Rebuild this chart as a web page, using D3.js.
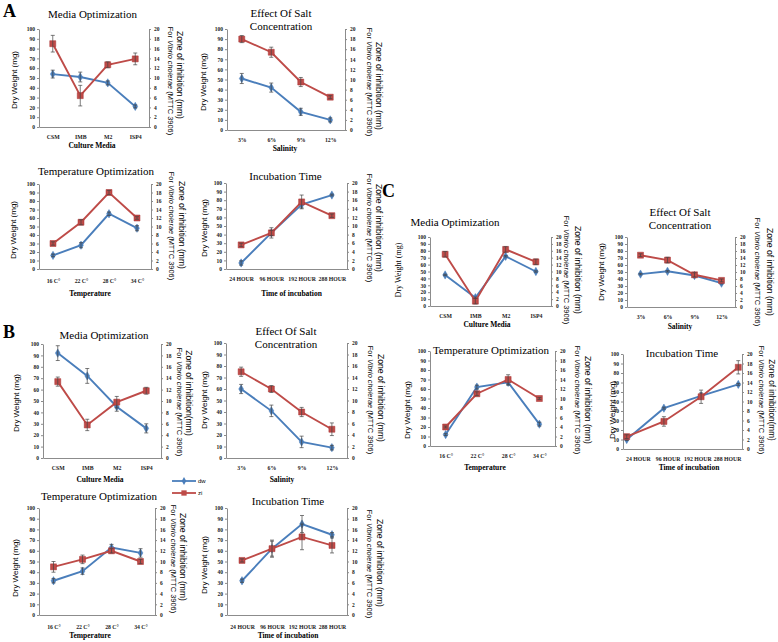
<!DOCTYPE html>
<html><head><meta charset="utf-8">
<script src="https://cdn.jsdelivr.net/npm/d3@7/dist/d3.min.js"></script>
<style>body{margin:0;background:#fff}svg{display:block}</style>
</head><body><svg id="c" width="778" height="642"></svg>
<script>
// ---------- DATA ----------
const mediaCats = ["CSM", "IMB", "M2", "ISP4"];
const salinityCats = ["3%", "6%", "9%", "12%"];
const tempCats = ["16 C°", "22 C°", "28 C°", "34 C°"];
const timeCats = ["24 HOUR", "96 HOUR", "192 HOUR", "288 HOUR"];
const dwTicks = [0, 10, 20, 30, 40, 50, 60, 70, 80, 90, 100];
const ziTicks = [0, 2, 4, 6, 8, 10, 12, 14, 16, 18, 20];
const legendLabels = ["dw", "zi"];

// A
const aMediaDw = [54, 51, 45, 21], aMediaDwErr = [4, 5, 2, 1.5];
const aMediaZi = [17, 6.4, 12.7, 13.9], aMediaZiErr = [1.7, 2.1, 0.6, 1.2];
const aSaltDw = [51, 42, 18, 10], aSaltDwErr = [5, 4.5, 3.5, 2];
const aSaltZi = [18, 15.4, 9.5, 6.5], aSaltZiErr = [0.7, 1, 0.9, 0.3];
const aTempDw = [16, 28, 65, 48], aTempDwErr = [1.5, 3, 2, 3];
const aTempZi = [6, 11, 18, 12], aTempZiErr = [0.4, 0.6, 0.5, 0.3];
const aTimeDw = [7, 42, 75, 86], aTimeDwErr = [2.5, 6, 4, 1];
const aTimeZi = [5.6, 8.4, 15.6, 12.4], aTimeZiErr = [0.4, 0.6, 1.6, 0.4];
// B
const bMediaDw = [92, 72, 45, 26], bMediaDwErr = [6.5, 6.5, 4, 4];
const bMediaZi = [13.4, 5.8, 9.8, 11.8], bMediaZiErr = [0.8, 1, 1, 0.6];
const bSaltDw = [60, 41, 14, 9], bSaltDwErr = [4, 5, 5, 2];
const bSaltZi = [15, 12, 8, 5], bSaltZiErr = [0.8, 0.6, 0.8, 1.1];
const bTempDw = [32, 41, 63, 58], bTempDwErr = [2, 3, 3, 4];
const bTempZi = [9, 10.4, 12, 10], bTempZiErr = [1, 0.8, 0.4, 0.4];
const bTimeDw = [32, 62, 85, 75], bTimeDwErr = [1.5, 7, 8, 2];
const bTimeZi = [10.2, 12.4, 14.6, 13], bTimeZiErr = [0.3, 1.6, 2.4, 1.4];
// C
const cMediaDw = [45, 12, 72, 50], cMediaDwErr = [1, 1, 1, 1];
const cMediaZi = [15, 1.4, 16.4, 12.8], cMediaZiErr = [0.8, 0.8, 0.8, 0.8];
const cSaltDw = [47, 51, 45, 34], cSaltDwErr = [1, 1, 2, 1];
const cSaltZi = [14.8, 13.4, 9.2, 7.6], cSaltZiErr = [0.4, 0.8, 0.6, 0.4];
const cTempDw = [12, 62, 67, 23], cTempDwErr = [1, 2, 3, 2];
const cTempZi = [4, 11, 14, 10], cTempZiErr = [0.2, 0.4, 1, 0.2];
const cTimeDw = [10, 43, 56, 68], cTimeDwErr = [1, 1, 3, 1];
const cTimeZi = [2.6, 5.8, 11, 17.2], cTimeZiErr = [0.4, 1, 1.4, 1.4];

// ---------- DRAW ----------
const svg = d3.select("#c");
const BLUE = "#4a7ebb", RED = "#be4b48", AX = "#8c8c8c";
const SERIF = "'Liberation Serif','Times New Roman',serif";
const SANS = "'Liberation Sans',Arial,sans-serif";

function rotText(g, x, y, angle, size, parts, family) {
  const t = g.append("text").attr("transform", `translate(${x},${y}) rotate(${angle})`)
    .attr("text-anchor", "middle").attr("dy", "0.35em")
    .attr("font-family", family || SANS).attr("font-size", size).attr("fill", "#000");
  parts.forEach(p => t.append("tspan").attr("font-style", p.i ? "italic" : "normal").text(p.t));
}

function panel(p) {
  const g = svg.append("g");
  const x = d3.scalePoint().domain(p.cats).range([p.x0, p.x1]).padding(0.5);
  const xp = d3.scalePoint().domain(p.cats).range([p.x0, p.x1]).padding(p.ptPad == null ? 0.5 : p.ptPad);
  const yL = d3.scaleLinear().domain([0, 100]).range([p.yB, p.yT]);
  const yR = d3.scaleLinear().domain([0, 20]).range([p.yB, p.yT]);

  const styleAxis = a => {
    a.selectAll("path,line").attr("stroke", AX);
    a.selectAll("text").attr("font-family", SERIF).attr("font-size", 5.5).attr("fill", "#222").attr("font-weight", "bold");
  };
  g.append("g").attr("transform", `translate(${p.x0},0)`)
    .call(d3.axisLeft(yL).tickValues(dwTicks).tickSize(2).tickSizeOuter(0).tickPadding(2)).call(styleAxis);
  g.append("g").attr("transform", `translate(${p.x1},0)`)
    .call(d3.axisRight(yR).tickValues(ziTicks).tickSize(2).tickSizeOuter(0).tickPadding(3)).call(styleAxis);
  const bx = g.append("g").attr("transform", `translate(0,${p.yB})`)
    .call(d3.axisBottom(x).tickSize(0).tickSizeOuter(0).tickPadding(p.catPad || 8)).call(styleAxis);
  bx.selectAll("text").attr("font-size", 5.8);

  const series = [
    {v: p.dw, e: p.dwErr, y: yL, c: BLUE, m: "diamond"},
    {v: p.zi, e: p.ziErr, y: yR, c: RED, m: "square"}
  ];
  series.forEach(s => {
    const pts = p.cats.map((c, i) => ({c, v: s.v[i], e: s.e[i]}));
    g.append("path").datum(pts).attr("fill", "none").attr("stroke", s.c).attr("stroke-width", 1.9)
      .attr("d", d3.line().x(d => xp(d.c)).y(d => s.y(d.v)));
    g.selectAll(null).data(pts).enter().append("path")
      .attr("transform", d => `translate(${xp(d.c)},${s.y(d.v)})`)
      .attr("d", d3.symbol().type(s.m === "square" ? d3.symbolSquare : d3.symbolDiamond).size(s.m === "square" ? 36 : 20))
      .attr("fill", s.c).attr("stroke", s.m === "square" ? "#a33" : s.c).attr("stroke-width", 0.5);
    const eb = g.selectAll(null).data(pts).enter().append("g").attr("stroke", "#444").attr("stroke-width", 0.7);
    eb.append("line").attr("x1", d => xp(d.c)).attr("x2", d => xp(d.c))
      .attr("y1", d => s.y(d.v - d.e)).attr("y2", d => s.y(d.v + d.e));
    eb.append("line").attr("x1", d => xp(d.c) - 2).attr("x2", d => xp(d.c) + 2)
      .attr("y1", d => s.y(d.v - d.e)).attr("y2", d => s.y(d.v - d.e));
    eb.append("line").attr("x1", d => xp(d.c) - 2).attr("x2", d => xp(d.c) + 2)
      .attr("y1", d => s.y(d.v + d.e)).attr("y2", d => s.y(d.v + d.e));
  });

  // titles
  p.title.forEach((t, i) => g.append("text").attr("x", p.tX).attr("y", p.tY + i * 13)
    .attr("text-anchor", "middle").attr("font-family", SERIF).attr("font-size", 11).text(t));
  g.append("text").attr("x", p.xtX).attr("y", p.xtY).attr("text-anchor", "middle")
    .attr("font-family", SERIF).attr("font-weight", "bold").attr("font-size", 7.5).text(p.xTitle);
  rotText(g, p.ytX, p.ytY, -90, 8, [{t: "Dry Weight (mg)"}], p.ytFamily);
  rotText(g, p.z1X, p.z1Y, 90, p.zSize || 8.6, [{t: p.zText || "Zone of inhibition (mm)"}]);
  rotText(g, p.z2X, p.z2Y, 90, 7.4, [{t: "For "}, {t: "Vibrio cholerae", i: true}, {t: " (MTTC 3906)"}]);
}

const panels = [
  // A
  {cats: mediaCats, dw: aMediaDw, dwErr: aMediaDwErr, zi: aMediaZi, ziErr: aMediaZiErr,
   x0: 39, x1: 149, yT: 29, yB: 127, title: ["Media Optimization"], tX: 92.5, tY: 17.5,
   xTitle: "Culture Media", xtX: 92, xtY: 148, ytX: 14, ytY: 80, z1X: 180, z1Y: 75, z2X: 170.5, z2Y: 81},
  {cats: salinityCats, dw: aSaltDw, dwErr: aSaltDwErr, zi: aSaltZi, ziErr: aSaltZiErr,
   x0: 227, x1: 345, yT: 29, yB: 130, title: ["Effect Of Salt", "Concentration"], tX: 281, tY: 16.5,
   xTitle: "Salinity", xtX: 285, xtY: 151, ytX: 203, ytY: 82, z1X: 379, z1Y: 86, z2X: 369.5, z2Y: 82},
  {cats: tempCats, dw: aTempDw, dwErr: aTempDwErr, zi: aTempZi, ziErr: aTempZiErr,
   x0: 39, x1: 151, yT: 184, yB: 269, title: ["Temperature Optimization"], tX: 96, tY: 175,
   xTitle: "Temperature", xtX: 90, xtY: 295.5, ytX: 13, ytY: 230, z1X: 182, z1Y: 225, z2X: 172, z2Y: 226, catPad: 10},
  {cats: timeCats, dw: aTimeDw, dwErr: aTimeDwErr, zi: aTimeZi, ziErr: aTimeZiErr,
   x0: 226, x1: 347, yT: 183, yB: 269, title: ["Incubation Time"], tX: 285.5, tY: 180,
   xTitle: "Time of incubation", xtX: 291.5, xtY: 295.5, ytX: 204, ytY: 228, z1X: 379, z1Y: 228, z2X: 369.5, z2Y: 228},
  // B
  {cats: mediaCats, dw: bMediaDw, dwErr: bMediaDwErr, zi: bMediaZi, ziErr: bMediaZiErr,
   x0: 43, x1: 161, yT: 344, yB: 458, title: ["Media Optimization"], tX: 104, tY: 339,
   xTitle: "Culture Media", xtX: 100, xtY: 482, ytX: 16.5, ytY: 403, z1X: 189, z1Y: 393, z2X: 179.5, z2Y: 402,
   zText: "Zone of inhibition(mm)"},
  {cats: salinityCats, dw: bSaltDw, dwErr: bSaltDwErr, zi: bSaltZi, ziErr: bSaltZiErr,
   x0: 226, x1: 347, yT: 343, yB: 458, title: ["Effect Of Salt", "Concentration"], tX: 286, tY: 335,
   xTitle: "Salinity", xtX: 282, xtY: 482, ytX: 204, ytY: 400, z1X: 381.5, z1Y: 398, z2X: 371, z2Y: 400},
  {cats: tempCats, dw: bTempDw, dwErr: bTempDwErr, zi: bTempZi, ziErr: bTempZiErr,
   x0: 39, x1: 155, yT: 508, yB: 615, title: ["Temperature Optimization"], tX: 99, tY: 500,
   xTitle: "Temperature", xtX: 90, xtY: 637.5, ytX: 15, ytY: 568, z1X: 183.5, z1Y: 557, z2X: 174, z2Y: 559, catPad: 10},
  {cats: timeCats, dw: bTimeDw, dwErr: bTimeDwErr, zi: bTimeZi, ziErr: bTimeZiErr,
   x0: 227, x1: 347, yT: 508, yB: 615, title: ["Incubation Time"], tX: 288, tY: 505,
   xTitle: "Time of incubation", xtX: 288, xtY: 637.5, ytX: 204, ytY: 565, z1X: 380, z1Y: 563, z2X: 370, z2Y: 564, catPad: 10},
  // C
  {cats: mediaCats, dw: cMediaDw, dwErr: cMediaDwErr, zi: cMediaZi, ziErr: cMediaZiErr,
   x0: 430, x1: 551, yT: 237, yB: 306, title: ["Media Optimization"], tX: 455, tY: 226,
   xTitle: "Culture Media", xtX: 487, xtY: 327, ytX: 398, ytY: 270, z1X: 578, z1Y: 270, z2X: 567, z2Y: 270,
   ytFamily: SERIF},
  {cats: salinityCats, dw: cSaltDw, dwErr: cSaltDwErr, zi: cSaltZi, ziErr: cSaltZiErr,
   x0: 627, x1: 735, yT: 237, yB: 307, title: ["Effect Of Salt", "Concentration"], tX: 680, tY: 216,
   xTitle: "Salinity", xtX: 680, xtY: 329, ytX: 601, ytY: 272, z1X: 770, z1Y: 272, z2X: 758, z2Y: 272},
  {cats: tempCats, dw: cTempDw, dwErr: cTempDwErr, zi: cTempZi, ziErr: cTempZiErr,
   x0: 430, x1: 555, yT: 351, yB: 446, title: ["Temperature Optimization"], tX: 491, tY: 354,
   xTitle: "Temperature", xtX: 485, xtY: 470, ytX: 407, ytY: 410, z1X: 588, z1Y: 400, z2X: 578, z2Y: 400},
  {cats: timeCats, dw: cTimeDw, dwErr: cTimeDwErr, zi: cTimeZi, ziErr: cTimeZiErr,
   x0: 623, x1: 742, yT: 354, yB: 449, title: ["Incubation Time"], tX: 682, tY: 357,
   xTitle: "Time of incubation", xtX: 689, xtY: 470, ytX: 612, ytY: 410, z1X: 772, z1Y: 400, z2X: 762, z2Y: 400,
   zSize: 8.2, zText: "Zone of inhibition(mm)", ptPad: 0.1}
];
panels.forEach(panel);

// panel letters
[["A", 3, 17], ["B", 3, 338], ["C", 382, 197]].forEach(([t, x, y]) =>
  svg.append("text").attr("x", x).attr("y", y).attr("font-family", SERIF).attr("font-weight", "bold")
    .attr("font-size", 18).text(t));

// legend (panel B)
const lg = svg.append("g");
const legY = d3.scalePoint().domain(legendLabels).range([481, 493]);
[[legendLabels[0], BLUE, d3.symbolDiamond, 18], [legendLabels[1], RED, d3.symbolSquare, 28]].forEach(([lab, c, sym, sz]) => {
  lg.append("line").attr("x1", 172).attr("x2", 196).attr("y1", legY(lab)).attr("y2", legY(lab)).attr("stroke", c).attr("stroke-width", 1.8);
  lg.append("path").attr("transform", `translate(184,${legY(lab)})`).attr("d", d3.symbol().type(sym).size(sz)).attr("fill", c);
  lg.append("text").attr("x", 198).attr("y", legY(lab) + 2).attr("font-family", SANS).attr("font-size", 6).text(lab);
});
</script></body></html>
